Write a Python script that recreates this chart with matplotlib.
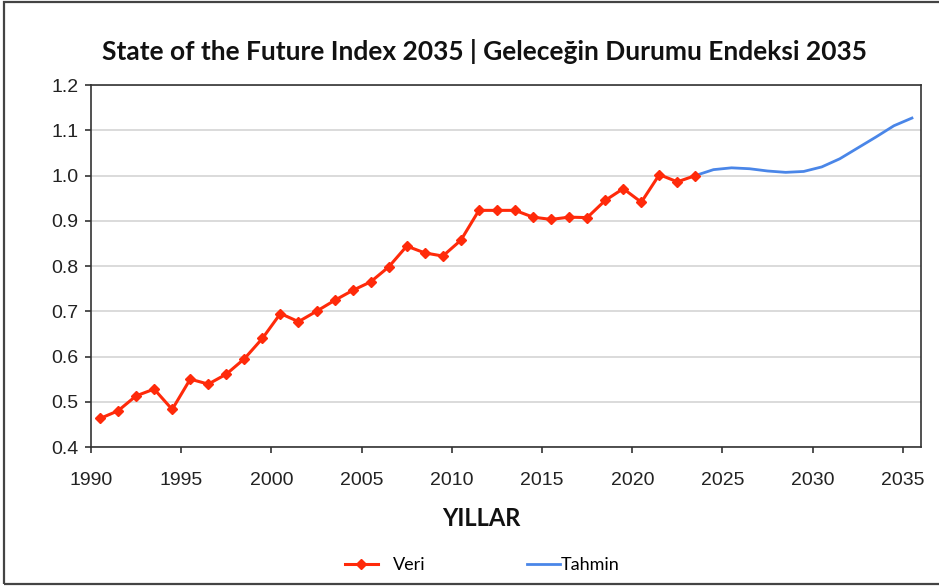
import matplotlib.pyplot as plt
import numpy as np
from matplotlib.lines import Line2D
from matplotlib.patches import Rectangle

# observed index, 1990-2023
years = list(range(1990, 2024))
veri = [0.463, 0.480, 0.513, 0.528, 0.483, 0.550, 0.539, 0.561, 0.595, 0.640,
        0.695, 0.677, 0.700, 0.724, 0.746, 0.765, 0.798, 0.844, 0.829, 0.822,
        0.857, 0.923, 0.923, 0.923, 0.908, 0.903, 0.908, 0.907, 0.945, 0.971,
        0.941, 1.002, 0.986, 1.000]

# forecast, 2023-2035
f_years = list(range(2023, 2036))
tahmin = [1.000, 1.013, 1.017, 1.015, 1.010, 1.007, 1.009, 1.019, 1.037,
          1.061, 1.085, 1.110, 1.127]

RED = '#ff2a0a'
BLUE = '#4a86e8'

fig = plt.figure(figsize=(9.39, 5.86), dpi=100)
ax = fig.add_axes([0.0969, 0.2372, 0.8839, 0.6177])

# values are mid-year points
ax.plot(np.array(years) + 0.5, veri, color=RED, lw=2.2, marker='D', ms=5.5,
        label='Veri', zorder=3)
ax.plot(np.array(f_years) + 0.5, tahmin, color=BLUE, lw=2.0, label='Tahmin', zorder=2)

ax.set_xlim(1990, 2036)
ax.set_ylim(0.4, 1.2)
ax.set_xticks(range(1990, 2036, 5))
ax.set_yticks(np.arange(0.4, 1.21, 0.1))
ax.set_yticklabels([f"{v:.1f}" for v in np.arange(0.4, 1.21, 0.1)])
ax.yaxis.grid(True, color='#d4d4d4', lw=1.2)
ax.set_axisbelow(True)
for s in ax.spines.values():
    s.set_color('#333333')
    s.set_linewidth(1.2)
ax.tick_params(axis='both', direction='out', length=4, width=1.2, color='#333333',
               labelsize=14, labelcolor='#222222')
ax.tick_params(axis='x', pad=14)
ax.tick_params(axis='y', pad=5)
for lab in ax.get_xticklabels() + ax.get_yticklabels():
    lab.set_family('Liberation Sans')

fig.text(0.516, 0.912, 'State of the Future Index 2035 | Geleceğin Durumu Endeksi 2035',
         ha='center', va='center', fontsize=19, fontweight='bold', family='Lato', color='#111111')
fig.text(0.513, 0.116, 'YILLAR', ha='center', va='center', fontsize=17,
         fontweight='bold', family='Lato', color='#111111')

# legend, two pieces spaced like the original
h_veri = Line2D([], [], color=RED, lw=2.2, marker='D', ms=5)
h_tah = Line2D([], [], color=BLUE, lw=2.0)
fig.legend([h_veri], ['Veri'], loc='center left', bbox_to_anchor=(0.367, 0.036),
           frameon=False, borderpad=0, borderaxespad=0, handlelength=1.85,
           handletextpad=0.8, prop={'family': 'Lato', 'size': 13})
fig.legend([h_tah], ['Tahmin'], loc='center left', bbox_to_anchor=(0.561, 0.036),
           frameon=False, borderpad=0, borderaxespad=0, handlelength=1.85,
           handletextpad=0.05, prop={'family': 'Lato', 'size': 13})

# outer frame
fig.patches.append(Rectangle((0.004, 0.004), 1.1, 0.993, transform=fig.transFigure,
                             fill=False, edgecolor='#444444', lw=1.6))

fig.savefig('out.png', dpi=100)
